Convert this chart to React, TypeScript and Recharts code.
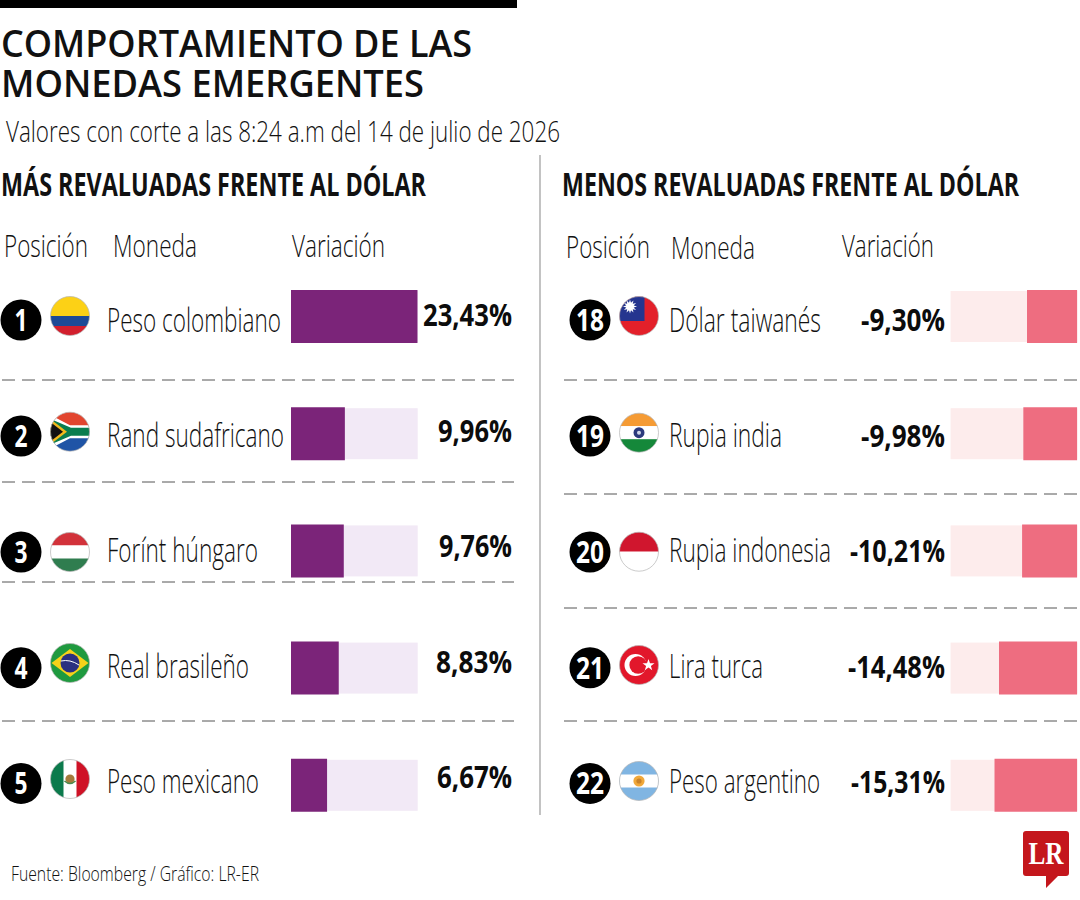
import React from "react";
import { BarChart, Bar, XAxis, YAxis, LabelList } from "recharts";

// ---------- data ----------
const leftNames = ["Peso colombiano", "Rand sudafricano", "Forínt húngaro", "Real brasileño", "Peso mexicano"];
const leftValues = [23.43, 9.96, 9.76, 8.83, 6.67];
const leftRanks = ["1", "2", "3", "4", "5"];
const leftFlags = ["co", "za", "hu", "br", "mx"];

const rightNames = ["Dólar taiwanés", "Rupia india", "Rupia indonesia", "Lira turca", "Peso argentino"];
const rightValues = [-9.3, -9.98, -10.21, -14.48, -15.31];
const rightRanks = ["18", "19", "20", "21", "22"];
const rightFlags = ["tw", "in", "id", "tr", "ar"];

const AXIS_MAX = 23.43;

const leftRows = leftNames.map((name, i) => ({ name, value: leftValues[i] }));
const rightRows = rightNames.map((name, i) => ({ name, value: rightValues[i] }));

// ---------- layout tuning (offsets from each bar's band centre) ----------
const rankDy = [3.4, 2.2, 1, -0.5, -2];
const nameDy = [15, 12.8, 10.6, 9.4, 7.7];
const leftValueDy = [9.4, 8.2, 6, 4.8, 2.6];
const rightValueDy = [14.4, 13, 11.5, 9.8, 7.6];
const leftFlagDy = [-0.6, -2.1, 1, -5.2, -6.4];
const rightFlagDy = [-0.6, -1.1, 0.7, -3.2, -4.4];
const leftNameW = [174, 177, 151, 142, 152];
const rightNameW = [152, 113, 162, 94, 151];
const leftValueW = [89, 74, 73, 76, 75];
const rightValueW = [84, 84, 95, 97, 94];

const leftDashY = [380, 482, 582, 721];
const rightDashY = [380, 494, 608, 721];

const FONT = "'Open Sans', sans-serif";

function T({ x, y, w, size, weight = 300, fill = "#111", anchor = "start", children }: any) {
  return (
    <text
      x={x}
      y={y}
      fontFamily={FONT}
      fontSize={size}
      fontWeight={weight}
      fill={fill}
      textAnchor={anchor}
      textLength={w}
      lengthAdjust="spacingAndGlyphs"
    >
      {children}
    </text>
  );
}

function FlagArt({ code }: { code: string }) {
  const R = 20;
  const box = (y: number, h: number, fill: string) => <rect x={-R} y={y} width={2 * R} height={h} fill={fill} />;
  switch (code) {
    case "co":
      return (
        <g>
          {box(-R, R, "#fcd116")}
          {box(0, 10, "#1d4a96")}
          {box(10, 10, "#d21f2d")}
        </g>
      );
    case "za":
      return (
        <g>
          {box(-R, R, "#e2452f")}
          {box(0, R, "#1f54a6")}
          <path d="M-20,-17 L0,-6.5 L20,-6.5 L20,6.5 L0,6.5 L-20,17 Z" fill="#fff" />
          <path d="M-20,-13 L1,-4 L20,-4 L20,4 L1,4 L-20,13 Z" fill="#0a7d4f" />
          <path d="M-20,-13 L-3,0 L-20,13 Z" fill="#f2b91d" />
          <path d="M-20,-10 L-7,0 L-20,10 Z" fill="#111" />
        </g>
      );
    case "hu":
      return (
        <g>
          {box(-R, 13.5, "#d2323a")}
          {box(-6.5, 13, "#fff")}
          {box(6.5, 13.5, "#2f7d4f")}
        </g>
      );
    case "br":
      return (
        <g>
          {box(-R, 2 * R, "#1f9a3f")}
          <path d="M-18.5,0 L0,-14 L18.5,0 L0,14 Z" fill="#f6d21a" />
          <circle r={9.5} fill="#2b3080" />
          <path d="M-9,-2 Q0,-4 9,2" stroke="#fff" strokeWidth={1} fill="none" />
        </g>
      );
    case "mx":
      return (
        <g>
          {box(-R, 2 * R, "#fff")}
          <rect x={-R} y={-R} width={13.5} height={2 * R} fill="#0c7a4c" />
          <rect x={6.5} y={-R} width={13.5} height={2 * R} fill="#cf1226" />
          <circle r={4.6} fill="#a57a3c" />
          <path d="M-5.5,2 Q0,7 5.5,2" stroke="#4b8a4f" strokeWidth={1.5} fill="none" />
        </g>
      );
    case "tw":
      return (
        <g>
          {box(-R, 2 * R, "#e3202a")}
          <rect x={-R} y={-R} width={R + 5.5} height={R + 5} fill="#25358f" />
          <g transform="translate(-9,-9.5)">
            {[0, 30, 60, 90, 120, 150, 180, 210, 240, 270, 300, 330].map((a) => (
              <path key={a} d="M-1.2,-3 L0,-7 L1.2,-3 Z" fill="#fff" transform={`rotate(${a})`} />
            ))}
            <circle r={3.8} fill="#fff" />
          </g>
        </g>
      );
    case "in":
      return (
        <g>
          {box(-R, 13.5, "#f59b34")}
          {box(-6.5, 13, "#fff")}
          {box(6.5, 13.5, "#15883a")}
          <circle r={5.5} fill="#2c3a7d" />
          <circle r={2} fill="#cfd6e8" />
        </g>
      );
    case "id":
      return (
        <g>
          {box(-R, R, "#d0162e")}
          {box(0, R, "#fff")}
        </g>
      );
    case "tr":
      return (
        <g>
          {box(-R, 2 * R, "#e2172b")}
          <circle cx={-3.5} r={11} fill="#fff" />
          <circle cx={-0.8} r={8.8} fill="#e2172b" />
          <path
            d="M9.5,-6 L11,-1.8 L15.5,-1.8 L11.9,0.9 L13.2,5.2 L9.5,2.6 L5.8,5.2 L7.1,0.9 L3.5,-1.8 L8,-1.8 Z"
            fill="#fff"
          />
        </g>
      );
    default:
      return (
        <g>
          {box(-R, 2 * R, "#80b5e2")}
          {box(-6.5, 13, "#fff")}
          <circle r={5.6} fill="#f0a83a" />
          <circle r={2.6} fill="#c9822a" />
        </g>
      );
  }
}

function Flag({ code, cx, cy }: { code: string; cx: number; cy: number }) {
  const id = `clip-${code}`;
  return (
    <g transform={`translate(${cx},${cy})`}>
      <clipPath id={id}>
        <circle r={19.5} />
      </clipPath>
      <g clipPath={`url(#${id})`}>
        <FlagArt code={code} />
      </g>
      <circle r={19.5} fill="none" stroke="#b5b5b5" strokeWidth={0.7} />
    </g>
  );
}

function RowTick(props: any) {
  const { y, index, ranks, flags, widths, flagDy, rankX, flagX, nameX, payload } = props;
  const rankY = y + rankDy[index];
  const two = ranks[index].length > 1;
  return (
    <g>
      <circle cx={rankX} cy={rankY} r={20.5} fill="#000" />
      <T x={rankX} y={rankY + 11} w={two ? 28 : 13} size={31} weight={700} fill="#fff" anchor="middle">
        {ranks[index]}
      </T>
      <Flag code={flags[index]} cx={flagX} cy={y + flagDy[index]} />
      <T x={nameX} y={y + nameDy[index]} w={widths[index]} size={33}>
        {payload.value}
      </T>
    </g>
  );
}

const fmt = (v: number) => `${v.toFixed(2).replace(".", ",")}%`;

function ValueLabel(props: any) {
  const { y, height, value, index, endX, dy, widths } = props;
  const mid = Number(y) + Number(height) / 2;
  return (
    <T x={endX} y={mid + dy[index]} w={widths[index]} size={31} weight={700} anchor="end" fill="#0c0c0c">
      {fmt(Number(value))}
    </T>
  );
}

const insetBg = (fill: string) => (p: any) =>
  <rect key={p.index} x={p.x} y={p.y + 1} width={p.width} height={p.height - 2} fill={fill} />;

function Panel({ rows, domain, margin, axisW, bar, bg, tickProps, labelProps }: any) {
  return (
    <div style={{ position: "absolute", left: 0, top: 0 }}>
      <BarChart width={1080} height={900} layout="vertical" data={rows} margin={margin} barCategoryGap={0}>
        <XAxis type="number" domain={domain} hide allowDataOverflow />
        <YAxis
          type="category"
          dataKey="name"
          width={axisW}
          axisLine={false}
          tickLine={false}
          interval={0}
          tick={(p: any) => <RowTick {...p} {...tickProps} />}
        />
        <Bar dataKey="value" fill={bar} barSize={53} background={insetBg(bg)} isAnimationActive={false}>
          <LabelList dataKey="value" content={(p: any) => <ValueLabel {...p} {...labelProps} />} />
        </Bar>
      </BarChart>
    </div>
  );
}

export default function App() {
  return (
    <div style={{ position: "absolute", left: 0, top: 0, width: 1080, height: 900, background: "#fff", overflow: "hidden" }}>
      <svg width={1080} height={900} style={{ position: "absolute", left: 0, top: 0, display: "block" }}>
        <rect x={0} y={0} width={517} height={8} fill="#000" />
        <T x={1} y={57} w={471} size={37} weight={600}>COMPORTAMIENTO DE LAS</T>
        <T x={1} y={97} w={423} size={37} weight={600}>MONEDAS EMERGENTES</T>
        <T x={6} y={142} w={554} size={30}>Valores con corte a las 8:24 a.m del 14 de julio de 2026</T>
        <T x={1} y={196} w={425} size={32} weight={700}>MÁS REVALUADAS FRENTE AL DÓLAR</T>
        <T x={562} y={196} w={457} size={32} weight={700}>MENOS REVALUADAS FRENTE AL DÓLAR</T>
        <T x={4} y={257} w={84} size={32}>Posición</T>
        <T x={113} y={257} w={84} size={32}>Moneda</T>
        <T x={292} y={257} w={93} size={32}>Variación</T>
        <T x={566} y={258} w={84} size={32}>Posición</T>
        <T x={671} y={259} w={84} size={32}>Moneda</T>
        <T x={842} y={257} w={92} size={32}>Variación</T>
        <line x1={540} x2={540} y1={155} y2={815} stroke="#9a9a9a" strokeWidth={1.2} />
        {leftDashY.map((y) => (
          <line key={`l${y}`} x1={2} x2={514} y1={y} y2={y} stroke="#555" strokeWidth={1} strokeDasharray="13 7" />
        ))}
        {rightDashY.map((y) => (
          <line key={`r${y}`} x1={564} x2={1078} y1={y} y2={y} stroke="#555" strokeWidth={1} strokeDasharray="13 7" />
        ))}
        <T x={11} y={881} w={248} size={21}>Fuente: Bloomberg / Gráfico: LR-ER</T>
        <path
          d="M1026,831 H1066 Q1069,831 1069,834 V873 Q1069,876 1066,876 H1058 L1046,888 V876 H1026 Q1023,876 1023,873 V834 Q1023,831 1026,831 Z"
          fill="#c4161c"
        />
        <text x={1046} y={864} fontFamily="'Liberation Serif', serif" fontWeight={700} fontSize={32} fill="#fff" textAnchor="middle" textLength={35} lengthAdjust="spacingAndGlyphs">
          LR
        </text>
      </svg>
      <Panel
        rows={leftRows}
        domain={[0, AXIS_MAX]}
        margin={{ top: 258, bottom: 56, left: 0, right: 662.3 }}
        axisW={291}
        bar="#7b2479"
        bg="#f2e9f6"
        tickProps={{ ranks: leftRanks, flags: leftFlags, widths: leftNameW, flagDy: leftFlagDy, rankX: 21, flagX: 70, nameX: 107 }}
        labelProps={{ endX: 512, dy: leftValueDy, widths: leftValueW }}
      />
      <Panel
        rows={rightRows}
        domain={[-AXIS_MAX, 0]}
        margin={{ top: 258, bottom: 56, left: 0, right: 2.7 }}
        axisW={950.6}
        bar="#ee6d80"
        bg="#fdecec"
        tickProps={{ ranks: rightRanks, flags: rightFlags, widths: rightNameW, flagDy: rightFlagDy, rankX: 590, flagX: 639, nameX: 669 }}
        labelProps={{ endX: 945, dy: rightValueDy, widths: rightValueW }}
      />
    </div>
  );
}
